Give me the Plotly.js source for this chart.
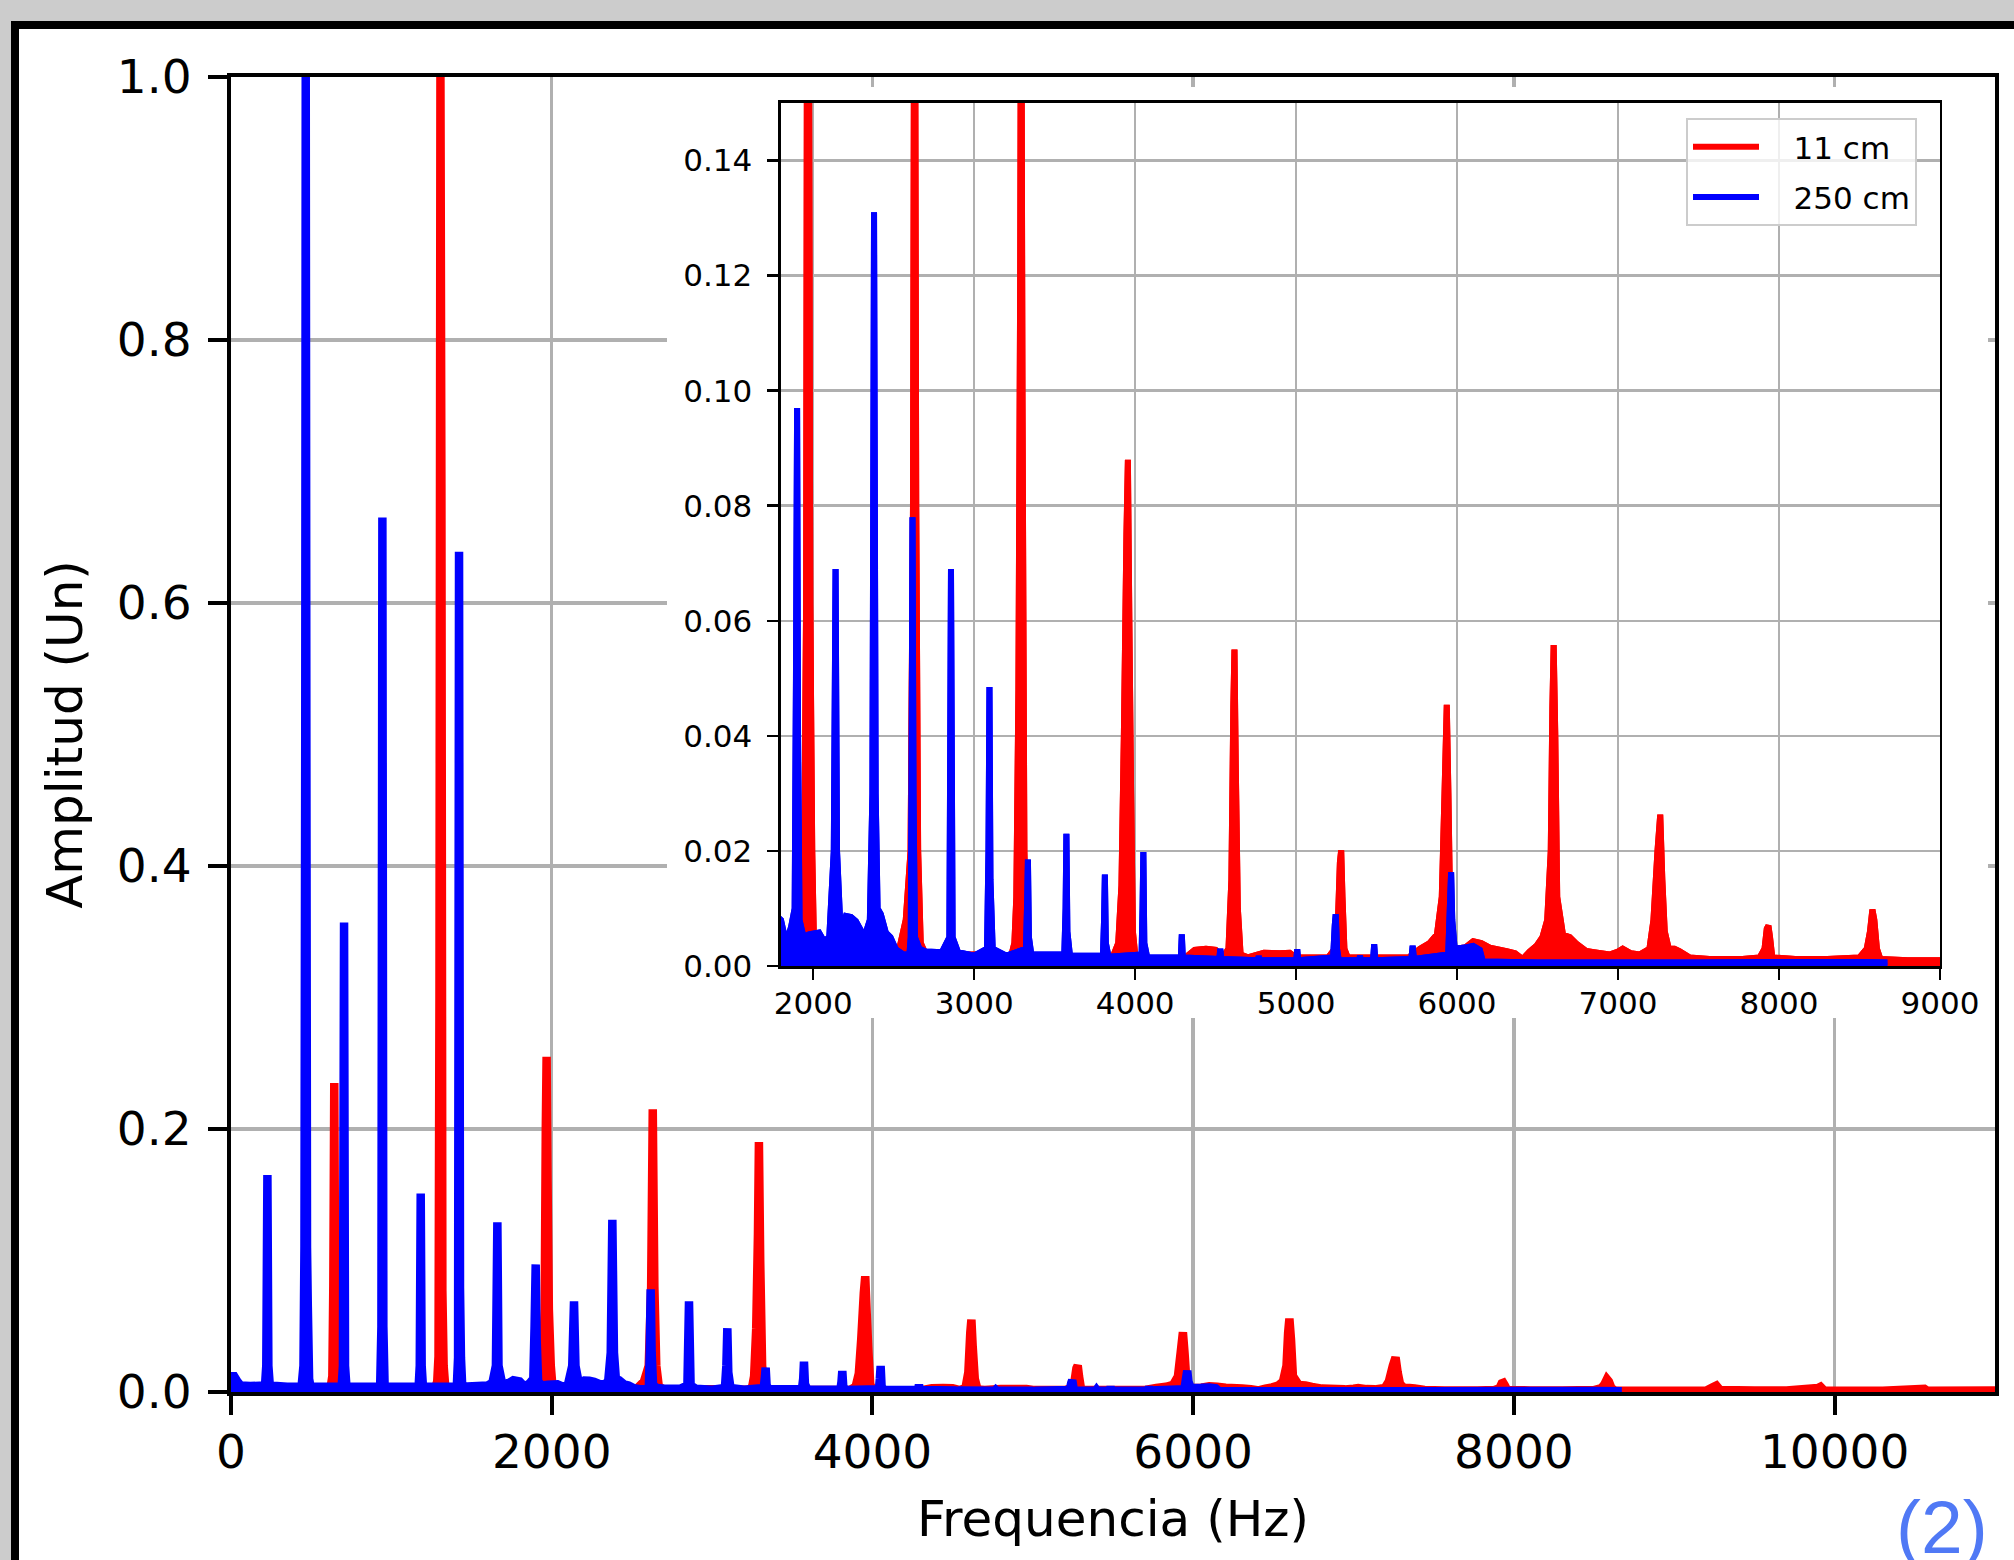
<!DOCTYPE html>
<html>
<head>
<meta charset="utf-8">
<script src="https://cdn.plot.ly/plotly-3.0.1.min.js"></script>
<style>
  html, body { margin: 0; padding: 0; background: #cccccc; width: 2014px; height: 1560px; overflow: hidden; }
  #frame { position: absolute; left: 11px; top: 21px; width: 2003px; height: 1539px; background: #ffffff;
           border-left: 8px solid #000; border-top: 8px solid #000; box-sizing: border-box; }
  #chart { position: absolute; left: 19px; top: 29px; width: 1995px; height: 1531px; }
</style>
</head>
<body>
<div id="frame"></div>
<div id="chart"></div>
<script>
// ---------- DATA ----------
const seriesNames = ['11 cm', '250 cm'];

// 11 cm spectrum (red): frequency (Hz) and normalised amplitude
const freqRed11 = [
  0, 300, 600, 622, 632, 638, 644, 650, 658, 670,
  900, 1200, 1270, 1286, 1294, 1300, 1306, 1312, 1318, 1326, 1336, 1360,
  1800, 1930, 1945, 1956, 1963, 1968, 1974, 1982, 1994, 2004, 2020,
  2500, 2535, 2575, 2605, 2620, 2630, 2640, 2652, 2668, 2700,
  3000, 3230, 3250, 3262, 3275, 3286, 3292, 3300, 3312, 3326, 3345,
  3860, 3895, 3915, 3930, 3946, 3955, 3964, 3975, 3986, 4002,
  4300, 4370, 4440, 4500, 4545, 4580, 4598, 4610, 4617, 4625, 4638, 4655,
  4700, 4800, 4900, 4960, 5000, 5200, 5240, 5260, 5272, 5280, 5288, 5300, 5320,
  5700, 5770, 5830, 5875, 5905, 5922, 5936, 5946, 5958, 5980,
  6050, 6100, 6150, 6203, 6307, 6360, 6408, 6450, 6493, 6530, 6560, 6582, 6592, 6600, 6610, 6622,
  6658, 6700, 6741, 6803, 6850, 6947, 7000, 7029, 7080, 7133,
  7195, 7220, 7245, 7262, 7275, 7290, 7315, 7350, 7381, 7443, 7567, 7773,
  7880, 7910, 7924, 7934, 7944, 7958, 8100, 8300,
  8500, 8545, 8565, 8580, 8592, 8608, 8630, 8800, 9000,
  9200, 9245, 9262, 9285, 9500, 9700, 9895, 9912, 9935, 10300, 10560, 10578, 11000
];
const ampRed11 = [
  0.001, 0.001, 0.0015, 0.004, 0.012, 0.08, 0.235, 0.06, 0.01, 0.002,
  0.0012, 0.0012, 0.002, 0.008, 0.027, 0.3, 1.0, 0.69, 0.077, 0.02, 0.004, 0.0015,
  0.0015, 0.004, 0.02, 0.063, 0.2, 0.255, 0.16, 0.063, 0.02, 0.005, 0.002,
  0.002, 0.003, 0.008, 0.02, 0.08, 0.215, 0.08, 0.02, 0.004, 0.002,
  0.002, 0.0018, 0.004, 0.012, 0.048, 0.12, 0.19, 0.1, 0.02, 0.004, 0.0015,
  0.0015, 0.004, 0.014, 0.04, 0.075, 0.088, 0.06, 0.03, 0.006, 0.0015,
  0.0012, 0.0028, 0.003, 0.0028, 0.0015, 0.003, 0.015, 0.045, 0.055, 0.035, 0.01, 0.002,
  0.0015, 0.0023, 0.0022, 0.0023, 0.0015, 0.0015, 0.003, 0.008, 0.018, 0.0201, 0.012, 0.003, 0.0015,
  0.0015, 0.003, 0.004, 0.0055, 0.012, 0.03, 0.0454, 0.03, 0.008, 0.003,
  0.0032, 0.0043, 0.004, 0.0032, 0.0026, 0.0022, 0.0012, 0.0025, 0.0035, 0.005, 0.008, 0.02, 0.045, 0.0558, 0.04, 0.012,
  0.0054, 0.005, 0.0039, 0.0026, 0.0024, 0.002, 0.0025, 0.003, 0.0022, 0.002,
  0.003, 0.008, 0.02, 0.0263, 0.015, 0.006, 0.003, 0.003, 0.0026, 0.0015, 0.0012, 0.0012,
  0.0015, 0.003, 0.0065, 0.007, 0.005, 0.0015, 0.0012, 0.0012,
  0.0015, 0.003, 0.006, 0.0098, 0.008, 0.003, 0.0012, 0.001, 0.001,
  0.0012, 0.004, 0.005, 0.0015, 0.0012, 0.0012, 0.003, 0.004, 0.0012, 0.001, 0.0025, 0.001, 0.0012
];

// 250 cm spectrum (blue): frequency (Hz) and normalised amplitude
const freqBlue250 = [
  0, 20, 40, 60, 120, 212, 220, 227, 233, 242,
  350, 440, 452, 458, 463, 466, 470, 474, 479, 487, 496,
  690, 698, 705, 711, 720, 930, 938, 944, 950, 958,
  1170, 1177, 1183, 1189, 1197, 1408, 1416, 1422, 1428, 1434, 1442,
  1600, 1630, 1652, 1661, 1668, 1690, 1720, 1760, 1800, 1831, 1862, 1885, 1893, 1900, 1906, 1915,
  1940, 1974, 2036, 2067, 2100, 2128, 2139, 2148, 2170, 2203, 2235, 2265, 2300, 2327,
  2352, 2368, 2378, 2388, 2400, 2420, 2451, 2480, 2513, 2560,
  2598, 2606, 2611, 2617, 2623, 2632, 2660, 2700, 2800, 2846, 2856, 2866, 2900, 3000,
  3080, 3089, 3095, 3101, 3115, 3200, 3322, 3330, 3334, 3340, 3355,
  3560, 3568, 3573, 3579, 3595, 3800, 3807, 3812, 3818, 3835,
  4040, 4046, 4051, 4057, 4075, 4284, 4290, 4296, 4523, 4529, 4535,
  4762, 4768, 4774, 5001, 5007, 5013, 5230, 5240, 5246, 5254, 5265,
  5392, 5397, 5402, 5478, 5485, 5492, 5716, 5724, 5732,
  5945, 5955, 5963, 5970, 5985, 6050, 6100, 6141, 6160,
  6500, 7000, 7500, 8000, 8500, 8673
];
const ampBlue250 = [
  0.012, 0.012, 0.008, 0.005, 0.0045, 0.005, 0.02, 0.165, 0.02, 0.005,
  0.004, 0.004, 0.02, 0.11, 0.5, 1.0, 0.5, 0.11, 0.065, 0.01, 0.004,
  0.004, 0.02, 0.357, 0.02, 0.004, 0.004, 0.05, 0.665, 0.05, 0.004,
  0.004, 0.02, 0.151, 0.02, 0.004, 0.004, 0.026, 0.639, 0.079, 0.026, 0.004,
  0.005, 0.007, 0.02, 0.129, 0.02, 0.007, 0.006, 0.009, 0.008, 0.004, 0.0067, 0.01, 0.05, 0.097, 0.04, 0.008,
  0.005, 0.0055, 0.0058, 0.0043, 0.005, 0.02, 0.069, 0.02, 0.006, 0.0087, 0.0085, 0.0078, 0.006, 0.0058,
  0.008, 0.03, 0.131, 0.03, 0.01, 0.009, 0.0058, 0.005, 0.0029, 0.002,
  0.002, 0.005, 0.03, 0.078, 0.03, 0.005, 0.003, 0.0025, 0.0024, 0.005, 0.069, 0.005, 0.0024, 0.0018,
  0.003, 0.02, 0.0485, 0.015, 0.003, 0.0018, 0.003, 0.012, 0.0185, 0.005, 0.002,
  0.002, 0.01, 0.023, 0.006, 0.0018, 0.0018, 0.008, 0.0159, 0.004, 0.0016,
  0.002, 0.01, 0.0198, 0.004, 0.0015, 0.0015, 0.0055, 0.0015, 0.0012, 0.003, 0.0012,
  0.001, 0.0017, 0.001, 0.001, 0.0029, 0.001, 0.0015, 0.007, 0.009, 0.003, 0.001,
  0.001, 0.0018, 0.001, 0.001, 0.0038, 0.001, 0.0012, 0.0035, 0.0012,
  0.002, 0.01, 0.0163, 0.008, 0.003, 0.0032, 0.0035, 0.0028, 0.0008,
  0.0006, 0.0006, 0.0006, 0.0007, 0.0007, 0.0006
];

const mainTitleX = 'Frequencia (Hz)';
const mainTitleY = 'Amplitud (Un)';
const cornerLabel = '(2)';

// ---------- STYLE ----------
const RED = '#ff0000', BLUE = '#0000ff', GRID = '#b0b0b0';
const FONT = 'DejaVu Sans, Verdana, sans-serif';
const PADNAME = '\u00a0\u00a0\u00a0';

function spectrum(x, y, name, color, width, xa, ya, legend, filled) {
  return {
    type: 'scatter', mode: 'lines', x: x, y: y, xaxis: xa, yaxis: ya, name: name,
    showlegend: legend, fill: filled ? 'tozeroy' : 'none', fillcolor: color,
    line: { color: color, width: width, simplify: false }, hoverinfo: 'skip'
  };
}

const traces = [
  // main axes
  spectrum(freqRed11, ampRed11, seriesNames[0], RED, 8.5, 'x', 'y', false, true),
  spectrum(freqBlue250, ampBlue250, seriesNames[1], BLUE, 8.5, 'x', 'y', false, true),
  // helper subplot: white panel behind the inset (hides main grid there)
  { type: 'scatter', mode: 'lines', x: [], y: [], xaxis: 'x2', yaxis: 'y2', showlegend: false, hoverinfo: 'skip' },
  // inset axes
  spectrum(freqRed11, ampRed11, seriesNames[0], RED, 6, 'x3', 'y3', false, true),
  spectrum(freqRed11, ampRed11, PADNAME + seriesNames[0], RED, 6, 'x3', 'y3', true, false),
  spectrum(freqBlue250, ampBlue250, seriesNames[1], BLUE, 6, 'x3', 'y3', false, true),
  spectrum(freqBlue250, ampBlue250, PADNAME + seriesNames[1], BLUE, 6, 'x3', 'y3', true, false)
];
traces[4].legendgroup = 'a';
traces[6].legendgroup = 'b';

const axBase = {
  showgrid: true, gridcolor: GRID, zeroline: false, showline: true, linecolor: '#000',
  mirror: true, ticks: 'outside', tickcolor: '#000', fixedrange: true
};

const layout = {
  width: 1995, height: 1531,
  margin: { l: 212, r: 19, t: 48, b: 168, pad: 0 },
  paper_bgcolor: '#ffffff', plot_bgcolor: '#ffffff',
  font: { family: FONT, color: '#000000' },
  hovermode: false,
  showlegend: true,
  xaxis: Object.assign({}, axBase, {
    domain: [0, 1], anchor: 'y', range: [0, 11000], tick0: 0, dtick: 2000, tickformat: 'd',
    gridwidth: 3.5, linewidth: 4, ticklen: 19, tickwidth: 4,
    tickfont: { size: 47, family: FONT }, ticklabelstandoff: -3,
    title: { text: mainTitleX, font: { size: 50, family: FONT }, standoff: 24 }
  }),
  yaxis: Object.assign({}, axBase, {
    domain: [0, 1], anchor: 'x', range: [0, 1], tick0: 0, dtick: 0.2, tickformat: '.1f',
    gridwidth: 3.5, linewidth: 4, ticklen: 19, tickwidth: 4,
    tickfont: { size: 47, family: FONT }, ticklabelstandoff: 7,
    title: { text: mainTitleY, font: { size: 50, family: FONT }, standoff: 19 }
  }),
  xaxis2: { domain: [0.24717, 0.99603], anchor: 'y2', range: [0, 1], showgrid: false, zeroline: false,
            showline: false, showticklabels: false, ticks: '', fixedrange: true },
  yaxis2: { domain: [0.28441, 0.99240], anchor: 'x2', range: [0, 1], showgrid: false, zeroline: false,
            showline: false, showticklabels: false, ticks: '', fixedrange: true },
  xaxis3: Object.assign({}, axBase, {
    domain: [0.31179, 0.96882], anchor: 'y3', range: [1800, 9000], tick0: 0, dtick: 1000, tickformat: 'd',
    gridwidth: 2.5, linewidth: 2.5, ticklen: 11, tickwidth: 2.5,
    tickfont: { size: 31, family: FONT }, ticklabelstandoff: -3
  }),
  yaxis3: Object.assign({}, axBase, {
    domain: [0.32395, 0.98023], anchor: 'x3', range: [0, 0.15], tick0: 0, dtick: 0.02, tickformat: '.2f',
    gridwidth: 2.5, linewidth: 2.5, ticklen: 11, tickwidth: 2.5,
    tickfont: { size: 31, family: FONT }, ticklabelstandoff: 9
  }),
  legend: {
    x: 0.82483, y: 0.96882, xanchor: 'left', yanchor: 'top',
    bgcolor: 'rgba(255,255,255,0.8)', bordercolor: '#cccccc', borderwidth: 2,
    font: { size: 31, family: FONT, color: '#000' },
    traceorder: 'grouped', tracegroupgap: 7, itemwidth: 66
  },
  annotations: [{
    text: cornerLabel, xref: 'paper', yref: 'paper', x: 0.94274, y: -0.0692,
    xanchor: 'left', yanchor: 'top', showarrow: false,
    font: { family: 'Liberation Sans, Arial, sans-serif', size: 75, color: '#5079f5' }
  }]
};

Plotly.newPlot('chart', traces, layout, { displayModeBar: false, staticPlot: true });
</script>
</body>
</html>
